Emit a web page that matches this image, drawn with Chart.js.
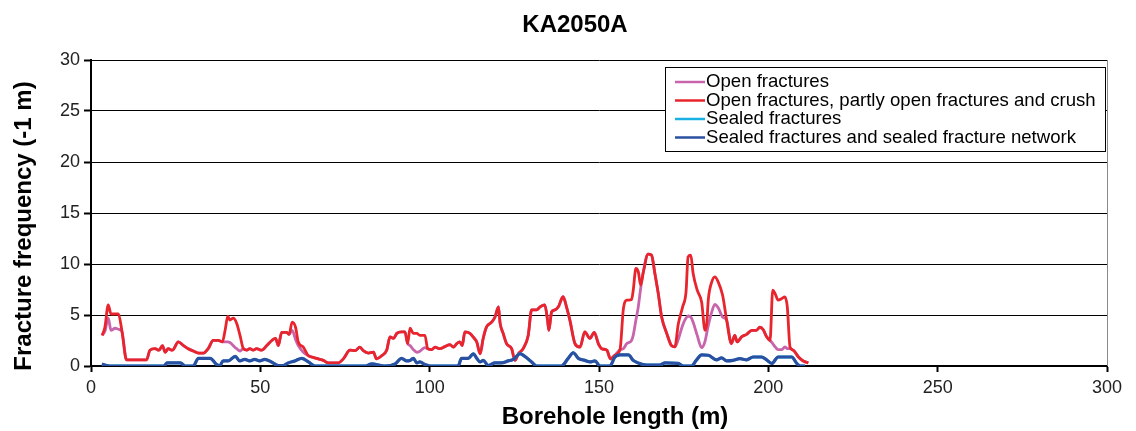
<!DOCTYPE html>
<html>
<head>
<meta charset="utf-8">
<script src="https://cdn.jsdelivr.net/npm/chart.js@4.4.1/dist/chart.umd.min.js"></script>
<style>
	body { margin: 0; background: #fff; }
</style>
</head>
<body>
<canvas id="chart" width="1136" height="431"></canvas>
<script>
// Borehole positions (m) shared by the two "open" series
var openLength = [
	3.3, 4.1, 5.1, 5.9, 7.1, 8.1, 9.1, 10.5, 16.4, 17.4, 18.9, 20.1, 21.1, 21.9, 22.8, 24.0, 25.8, 27.3, 28.7, 30.2,
	31.7, 33.2, 34.6, 36.1, 37.6, 38.8, 39.6, 40.4, 41.0, 42.0, 43.0, 44.0, 45.0, 46.0, 46.9, 47.9, 48.9, 50.4, 51.9, 53.4,
	54.5, 55.3, 56.3, 57.8, 58.5, 59.4, 60.4, 61.2, 62.7, 64.2, 65.6, 67.1, 68.6, 70.1, 73.0, 74.5, 76.5, 78.0, 79.4, 80.4,
	81.9, 83.4, 84.3, 85.8, 87.3, 88.3, 89.3, 90.3, 91.7, 92.7, 93.5, 94.2, 95.2, 96.2, 97.1, 98.6, 99.4, 100.6, 101.6, 103.0,
	104.5, 106.0, 107.0, 108.0, 108.9, 109.6, 110.4, 111.9, 113.2, 113.9, 114.9, 115.8, 116.8, 118.3, 119.3, 120.3, 120.8, 121.7, 122.7, 124.2,
	125.2, 126.2, 127.6, 129.1, 130.1, 131.6, 132.6, 134.0, 134.8, 135.2, 136.0, 137.0, 138.0, 139.4, 140.4, 141.4, 142.9, 144.4, 145.8, 147.3,
	148.6, 149.8, 150.8, 152.3, 153.4, 154.7, 156.2, 157.2, 158.2, 159.6, 160.1, 160.9, 161.6, 162.3, 163.1, 164.5, 165.5, 166.5, 167.5, 168.5,
	170.0, 171.4, 172.4, 173.4, 174.7, 175.7, 176.3, 177.1, 177.8, 179.0, 180.3, 181.3, 181.8, 182.3, 183.3, 184.2, 185.2, 186.5, 187.7, 189.1,
	190.1, 190.8, 192.1, 193.6, 195.1, 196.5, 197.5, 198.5, 199.5, 200.5, 201.3, 202.0, 202.9, 203.9, 204.9, 205.6, 206.4, 207.4, 208.9, 210.3,
	211.8
];
// Open fractures
var openFreq = [
	3.0, 3.4, 4.7, 3.5, 3.7, 3.6, 3.4, 0.6, 0.6, 1.55, 1.7, 1.55, 2.0, 1.35, 1.7, 1.55, 2.36, 2.0, 1.7, 1.47,
	1.27, 1.27, 1.7, 2.52, 2.52, 2.36, 2.36, 2.36, 2.3, 2.0, 1.7, 1.47, 1.7, 1.55, 1.7, 1.55, 1.7, 1.55, 2.0, 2.5,
	2.7, 2.0, 3.3, 3.3, 3.1, 3.5, 2.6, 2.0, 1.35, 1.0, 0.85, 0.7, 0.55, 0.3, 0.3, 0.7, 1.55, 1.5, 1.85, 1.5,
	1.27, 1.35, 0.7, 1.0, 1.55, 2.85, 2.7, 3.2, 3.35, 3.35, 2.2, 2.0, 1.6, 1.35, 1.45, 1.8, 1.7, 1.6, 1.85, 1.7,
	1.9, 2.1, 1.85, 2.2, 2.36, 2.0, 3.35, 3.2, 2.7, 2.36, 1.2, 2.7, 3.83, 4.3, 4.8, 5.8, 4.2, 3.2, 2.2, 1.7,
	0.55, 1.2, 1.7, 3.0, 5.5, 5.5, 5.8, 6.0, 4.5, 3.5, 5.3, 5.5, 5.8, 6.8, 5.8, 4.5, 2.2, 1.85, 3.35, 2.7,
	3.3, 2.2, 1.7, 1.55, 0.7, 1.05, 1.6, 1.7, 2.2, 2.5, 3.0, 4.5, 5.8, 7.6, 9.24, 10.97, 10.87, 9.07, 7.1, 4.8,
	3.2, 2.0, 1.87, 2.6, 4.0, 4.7, 4.9, 4.8, 4.3, 3.0, 1.8, 2.4, 3.2, 4.0, 5.3, 6.05, 5.7, 4.8, 4.48, 2.2,
	3.0, 2.36, 2.86, 3.1, 3.5, 3.5, 3.8, 3.55, 2.86, 2.5, 2.2, 1.87, 1.6, 1.6, 1.87, 1.7, 1.7, 1.54, 0.88, 0.49,
	0.3
];
// Open fractures, partly open fractures and crush
var openCrushFreq = [
	3.0, 3.8, 6.0, 5.1, 5.1, 5.1, 3.5, 0.6, 0.6, 1.55, 1.7, 1.55, 2.0, 1.35, 1.7, 1.55, 2.36, 2.0, 1.7, 1.47,
	1.27, 1.27, 1.7, 2.52, 2.52, 2.36, 3.5, 4.88, 4.5, 4.7, 4.2, 3.0, 1.7, 1.55, 1.7, 1.55, 1.7, 1.55, 2.0, 2.5,
	2.7, 2.0, 3.3, 3.3, 3.1, 4.3, 3.8, 2.36, 1.85, 1.0, 0.85, 0.7, 0.55, 0.3, 0.3, 0.7, 1.55, 1.5, 1.85, 1.5,
	1.27, 1.35, 0.7, 1.0, 1.55, 2.85, 2.7, 3.2, 3.35, 3.35, 2.2, 3.7, 3.2, 3.2, 3.0, 3.0, 1.7, 1.6, 1.85, 1.7,
	1.9, 2.1, 1.85, 2.2, 2.36, 2.0, 3.35, 3.2, 2.7, 2.36, 1.2, 2.7, 3.83, 4.3, 4.8, 5.8, 4.2, 3.2, 2.2, 1.7,
	0.55, 1.2, 1.7, 3.0, 5.5, 5.5, 5.8, 6.0, 4.5, 3.5, 5.3, 5.5, 5.8, 6.8, 5.8, 4.5, 2.2, 1.85, 3.35, 2.7,
	3.3, 2.2, 1.7, 1.55, 0.7, 1.05, 1.6, 5.6, 6.45, 6.5, 7.4, 9.56, 9.24, 7.93, 9.24, 10.97, 10.87, 9.07, 7.1, 4.8,
	3.2, 2.0, 1.87, 4.1, 5.8, 7.27, 10.7, 10.87, 9.07, 7.43, 6.28, 3.5, 4.1, 6.6, 8.24, 8.74, 8.24, 6.93, 4.48, 2.2,
	3.0, 2.36, 2.86, 3.1, 3.5, 3.5, 3.8, 3.55, 2.86, 2.5, 7.43, 7.1, 6.45, 6.6, 6.77, 5.8, 1.87, 1.54, 0.88, 0.49,
	0.3
];

// Borehole positions (m) shared by the two "sealed" series
var sealedLength = [
	3.2, 4.6, 5.5, 21.5, 22.5, 26.4, 27.8, 30.2, 31.7, 35.2, 37.1, 38.0, 39.0, 40.5, 42.6, 43.9, 45.4, 46.9, 48.3, 49.8,
	51.3, 53.3, 55.3, 56.8, 58.2, 60.2, 62.2, 64.2, 66.2, 81.0, 82.9, 86.8, 89.8, 91.7, 93.2, 94.2, 95.2, 96.2, 97.1, 98.6,
	100.1, 108.4, 109.4, 111.4, 112.9, 113.9, 114.9, 115.8, 117.3, 119.3, 121.2, 123.2, 124.7, 126.7, 128.1, 130.1, 131.6, 138.9, 140.9, 142.4,
	143.9, 145.8, 147.3, 148.8, 150.3, 153.2, 154.7, 156.2, 158.7, 160.1, 161.6, 164.1, 168.0, 169.5, 173.4, 174.9, 177.3, 178.7, 180.3, 182.3,
	184.7, 186.2, 187.7, 189.6, 191.6, 193.6, 195.5, 198.0, 199.5, 201.0, 202.9, 206.9, 208.4, 209.4, 210.8
];
// Sealed fractures
var sealedFreq = [
	0.05, 0.0, 0.0, 0.0, 0.3, 0.3, 0.0, 0.0, 0.75, 0.75, 0.15, 0.0, 0.5, 0.5, 0.95, 0.5, 0.65, 0.5, 0.65, 0.5,
	0.65, 0.4, 0.05, 0.05, 0.3, 0.5, 0.75, 0.4, 0.0, 0.0, 0.2, 0.0, 0.2, 0.75, 0.5, 0.55, 0.75, 0.3, 0.4, 0.15,
	0.0, 0.0, 0.75, 0.75, 1.2, 0.75, 0.4, 0.55, 0.05, 0.3, 0.3, 0.5, 0.65, 1.2, 0.95, 0.4, 0.0, 0.0, 0.75, 1.3,
	0.75, 0.55, 0.4, 0.5, 0.0, 0.0, 0.88, 1.1, 1.1, 0.55, 0.3, 0.1, 0.1, 0.3, 0.25, 0.0, 0.0, 0.55, 1.1, 1.05,
	0.6, 0.8, 0.5, 0.55, 0.72, 0.6, 0.88, 0.88, 0.6, 0.25, 0.88, 0.88, 0.25, 0.0, 0.0
];
// Sealed fractures and sealed fracture network
var sealedNetworkFreq = [
	0.2, 0.05, 0.0, 0.0, 0.3, 0.3, 0.0, 0.0, 0.75, 0.75, 0.15, 0.0, 0.5, 0.5, 0.95, 0.5, 0.65, 0.5, 0.65, 0.5,
	0.65, 0.4, 0.05, 0.05, 0.3, 0.5, 0.75, 0.4, 0.0, 0.0, 0.2, 0.0, 0.2, 0.75, 0.5, 0.55, 0.75, 0.3, 0.4, 0.15,
	0.0, 0.0, 0.75, 0.75, 1.2, 0.75, 0.4, 0.55, 0.05, 0.3, 0.3, 0.5, 0.65, 1.2, 0.95, 0.4, 0.0, 0.0, 0.75, 1.3,
	0.75, 0.55, 0.4, 0.5, 0.0, 0.0, 0.88, 1.1, 1.1, 0.55, 0.3, 0.1, 0.1, 0.3, 0.25, 0.0, 0.0, 0.55, 1.1, 1.05,
	0.6, 0.8, 0.5, 0.55, 0.72, 0.6, 0.88, 0.88, 0.6, 0.25, 0.88, 0.88, 0.25, 0.0, 0.0
];

var seriesLabels = [
	'Open fractures',
	'Open fractures, partly open fractures and crush',
	'Sealed fractures',
	'Sealed fractures and sealed fracture network'
];
var seriesColors = [ '#c864ac', '#e8242c', '#1ab0e4', '#2a50a2' ];

var FONT = '"Liberation Sans", Arial, sans-serif';

function toPoints( xs, ys ) {
	return xs.map( function ( x, i ) {
		return { x: x, y: ys[ i ] };
	} );
}

function lineSet( i, xs, ys, width ) {
	return {
		label: seriesLabels[ i ],
		data: toPoints( xs, ys ),
		borderColor: seriesColors[ i ],
		backgroundColor: seriesColors[ i ],
		borderWidth: width,
		pointRadius: 0,
		cubicInterpolationMode: 'monotone',
		fill: false,
		// later series are painted over earlier ones
		order: 3 - i
	};
}

// Titles, right frame line and the boxed legend inside the plot
var frameLegend = {
	id: 'frameLegend',
	afterDraw: function ( chart ) {
		var ctx = chart.ctx,
			area = chart.chartArea;
		ctx.save();
		ctx.strokeStyle = '#8a8a8a';
		ctx.lineWidth = 1;
		ctx.beginPath();
		ctx.moveTo( area.right + 0.5, area.top );
		ctx.lineTo( area.right + 0.5, area.bottom );
		ctx.stroke();

		ctx.fillStyle = '#000';
		ctx.textAlign = 'center';
		ctx.textBaseline = 'middle';
		ctx.font = 'bold 24px ' + FONT;
		ctx.fillText( 'KA2050A', 575, 25 );
		ctx.fillText( 'Borehole length (m)', 615, 417 );
		ctx.save();
		ctx.translate( 24, 226 );
		ctx.rotate( -Math.PI / 2 );
		ctx.fillText( 'Fracture frequency (-1 m)', 0, 0 );
		ctx.restore();

		var boxL = area.right - 442, boxT = area.top + 7, boxW = 440, boxH = 84;
		ctx.fillStyle = '#fff';
		ctx.fillRect( boxL, boxT, boxW, boxH );
		ctx.strokeStyle = '#000';
		ctx.strokeRect( boxL + 0.5, boxT + 0.5, boxW, boxH );

		ctx.font = '18.6px ' + FONT;
		ctx.textAlign = 'left';
		ctx.fillStyle = '#000';
		chart.data.datasets.forEach( function ( ds, i ) {
			var y = boxT + 15 + i * 18.5;
			ctx.strokeStyle = ds.borderColor;
			ctx.lineWidth = 2.5;
			ctx.beginPath();
			ctx.moveTo( boxL + 10, y );
			ctx.lineTo( boxL + 40, y );
			ctx.stroke();
			ctx.fillText( ds.label, boxL + 41, y );
		} );
		ctx.restore();
	}
};

new Chart( document.getElementById( 'chart' ), {
	type: 'line',
	data: {
		datasets: [
			lineSet( 0, openLength, openFreq, 2.8 ),
			lineSet( 1, openLength, openCrushFreq, 2.8 ),
			lineSet( 2, sealedLength, sealedFreq, 2.8 ),
			lineSet( 3, sealedLength, sealedNetworkFreq, 3.2 )
		]
	},
	options: {
		responsive: false,
		animation: false,
		layout: { padding: { left: 0, right: 29, top: 60, bottom: 0 } },
		plugins: {
			legend: { display: false },
			tooltip: { enabled: false },
			title: { display: false }
		},
		scales: {
			x: {
				type: 'linear',
				min: 0,
				max: 300,
				ticks: { stepSize: 50, color: '#222', padding: 5, maxRotation: 0, font: { family: FONT, size: 18 } },
				grid: { drawOnChartArea: false, drawTicks: true, tickLength: 6, tickColor: '#000', tickWidth: 2 },
				border: { color: '#000', width: 2 },
				afterFit: function ( scale ) { scale.height = 65; }
			},
			y: {
				min: 0,
				max: 30,
				ticks: { stepSize: 5, color: '#222', padding: 4, font: { family: FONT, size: 18 } },
				grid: { color: '#000', lineWidth: 1, drawTicks: true, tickLength: 7, tickColor: '#000', tickWidth: 2 },
				border: { color: '#000', width: 2 },
				afterFit: function ( scale ) { scale.width = 91; }
			}
		}
	},
	plugins: [ frameLegend ]
} );
</script>
</body>
</html>
